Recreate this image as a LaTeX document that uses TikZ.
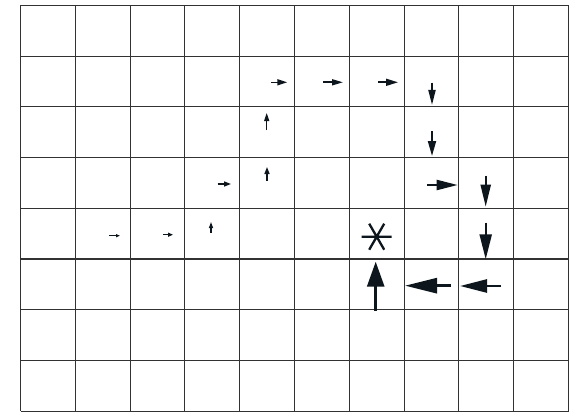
\documentclass[tikz,border=0pt]{standalone}
\usepackage{tikz}
\usetikzlibrary{arrows.meta}
\definecolor{gridgray}{RGB}{50,50,50}
\definecolor{inkblack}{RGB}{12,22,28}

\tikzset{
  gridline/.style={draw=gridgray, line width=1.15pt},
  policy/.style n args={3}{draw=inkblack, line width=#3pt,
    -{Triangle[length=#1pt, width=#2pt]}}
}

\begin{document}
\begin{tikzpicture}[x=1pt, y=-1pt]
  \fill[white] (0,0) rectangle (576,412);
  \useasboundingbox (0,0) rectangle (576,412);
  % grid of 10 x 8 cells
  \foreach \i in {0,...,10}
    \draw[gridline] ({20.5+54.8*\i},5.5) -- ({20.5+54.8*\i},411.1);
  \foreach \j in {0,...,8}
    \draw[gridline] (20.5,{5.5+50.7*\j}) -- (568.5,{5.5+50.7*\j});
  % policy arrows, size grows towards the goal
  \draw[policy={4}{3}{1.1}] (109,235.7) -- (120,235.7);
  \draw[policy={5}{4}{1.2}] (163,234.7) -- (173,234.7);
  \draw[policy={6}{4}{1.2}] (211,233) -- (211,222);
  \draw[policy={7}{5}{1.3}] (217.7,184) -- (231,184);
  \draw[policy={7}{5}{1.3}] (267,180.7) -- (267,167);
  \draw[policy={8}{5}{1.3}] (266.7,130) -- (266.7,113);
  \draw[policy={10}{6}{1.5}] (271,82.3) -- (287.3,82.3);
  \draw[policy={11}{6}{1.6}] (323,82.3) -- (343,82.3);
  \draw[policy={12}{7}{1.7}] (378,82.3) -- (398,82.3);
  \draw[policy={15}{7}{1.8}] (432,82.7) -- (432,105);
  \draw[policy={15}{8}{1.9}] (432,131) -- (432,156);
  \draw[policy={21}{10}{2.1}] (427,185) -- (457.7,185);
  \draw[policy={22}{10}{2.1}] (485.7,175.7) -- (485.7,206.7);
  \draw[policy={25}{12}{2.3}] (485.7,222.7) -- (485.7,259.3);
  \draw[policy={27}{13}{2.6}] (501,286) -- (460,286);
  \draw[policy={32}{15}{2.8}] (451,285.7) -- (405,285.7);
  \draw[policy={25}{17}{2.8}] (375.7,311) -- (375.7,261.7);
  % goal marker
  \draw[draw=inkblack, line width=2.3pt]
    (361.7,236.7) -- (391.7,236.7)
    (369.2,223.7) -- (384.2,249.7)
    (384.2,223.7) -- (369.2,249.7);
\end{tikzpicture}
\end{document}
